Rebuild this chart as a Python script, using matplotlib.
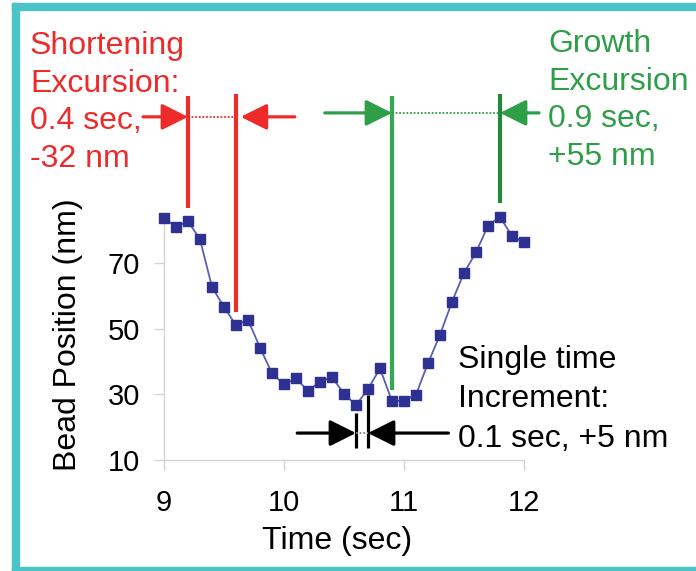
import matplotlib
matplotlib.use("Agg")
import matplotlib.pyplot as plt
from matplotlib.patches import Rectangle

plt.rcParams['font.family'] = ['Liberation Sans', 'DejaVu Sans']

# ---- data ----
time_sec = [9.0, 9.1, 9.2, 9.3, 9.4, 9.5, 9.6, 9.7, 9.8, 9.9,
            10.0, 10.1, 10.2, 10.3, 10.4, 10.5, 10.6, 10.7, 10.8, 10.9,
            11.0, 11.1, 11.2, 11.3, 11.4, 11.5, 11.6, 11.7, 11.8, 11.9, 12.0]
bead_nm = [83.7, 81.0, 82.7, 77.2, 62.7, 56.6, 51.0, 52.7, 44.2, 36.4,
           33.0, 34.9, 31.0, 33.9, 35.2, 30.2, 26.7, 31.6, 37.9, 27.9,
           28.1, 29.9, 39.5, 48.1, 58.2, 67.0, 73.2, 81.4, 84.0, 78.2, 76.3]
x_ticks = [9, 10, 11, 12]
y_ticks = [10, 30, 50, 70]

shorten_span = (9.2, 9.6)
growth_span = (10.9, 11.8)
increment_span = (10.6, 10.7)

shorten_text = "Shortening\nExcursion:\n0.4 sec,\n-32 nm"
growth_text = "Growth\nExcursion\n0.9 sec,\n+55 nm"
increment_text = "Single time\nIncrement:\n0.1 sec, +5 nm"

# ---- styling ----
W, H = 696, 571
RED = '#ee2a2a'
GREEN = '#2e9e48'
GREEN_DARK = '#1f8a3c'
NAVY = '#2e3192'
TEAL = '#4cc3c7'
GRID = '#d4d4d4'
FS = 23

def fx(x):
    return x / W

def fy(y):
    return 1 - y / H

fig = plt.figure(figsize=(W / 100, H / 100), dpi=100)
# axes: x 9..12 -> px 164..524 ; y 10..84 -> px 460..217
ax = fig.add_axes([fx(164), fy(460), (524 - 164) / W, (460 - 217) / H])
ax.set_xlim(9, 12)
ax.set_ylim(10, 84)

ax.plot(time_sec, bead_nm, color='#5b5fb0', lw=1.3, zorder=3, clip_on=False)
ax.plot(time_sec, bead_nm, ls='none', marker='s', ms=6.5, color=NAVY,
        zorder=4, clip_on=False)

for s in ['top', 'right']:
    ax.spines[s].set_visible(False)
for s in ['left', 'bottom']:
    ax.spines[s].set_color(GRID)
    ax.spines[s].set_linewidth(1)
ax.set_xticks(x_ticks)
ax.set_yticks(y_ticks)
ax.tick_params(axis='both', direction='out', length=7.2, width=1, color=GRID,
               labelsize=21, labelcolor='black')
ax.tick_params(axis='x', pad=14)
ax.tick_params(axis='y', pad=10)

ax.set_xlabel('Time (sec)', fontsize=FS)
ax.xaxis.label.set_va('center')
ax.xaxis.set_label_coords((337 - 164) / 360, (460 - 541) / 243)
ax.set_ylabel('Bead Position (nm)', fontsize=FS)
ax.yaxis.label.set_va('center')
ax.yaxis.set_label_coords((68 - 164) / 360, (460 - 335) / 243)

def value_at(t):
    return bead_nm[min(range(len(time_sec)), key=lambda i: abs(time_sec[i] - t))]

TOP = 121
def vline(t, y0, y1, color, lw=3):
    ax.plot([t, t], [y0, y1], color=color, lw=lw, solid_capstyle='butt',
            clip_on=False, zorder=5)

def arrow(t_tail, t_head, y, color):
    ax.annotate('', xy=(t_head, y), xytext=(t_tail, y),
                arrowprops=dict(arrowstyle='-|>,head_length=0.8,head_width=0.4',
                                mutation_scale=20, lw=2.3, color=color,
                                shrinkA=0, shrinkB=0),
                annotation_clip=False, zorder=6)

def dotted(t0, t1, y, color):
    ax.plot([t0, t1], [y, y], color=color, lw=1.3, ls=(0, (1, 1)),
            clip_on=False, zorder=5)

# shortening excursion
a, b = shorten_span
ya = 114.5
vline(a, value_at(a) + 4, TOP, RED)
vline(b, value_at(b) + 4, TOP + 0.5, RED)
arrow(8.825, a, ya, RED)
arrow(10.09, b + 0.04, ya, RED)
dotted(a, b, ya, RED)

# growth excursion
a, b = growth_span
yg = 115.7
vline(a, value_at(a) + 3.4, TOP, '#34a853')
vline(b, value_at(b) + 4.3, TOP + 0.5, GREEN_DARK)
arrow(10.34, a, yg, GREEN)
arrow(12.125, b, yg, GREEN)
dotted(a, b, yg, GREEN)

# single time increment
a, b = increment_span
yb = 18.2
vline(a, 13.7, value_at(a) - 2.4, 'black', lw=2.3)
vline(b, 13.7, value_at(b) - 1.9, 'black', lw=2.3)
arrow(10.11, a, yb, 'black')
arrow(11.37, b, yb, 'black')
dotted(a, b, yb, '#888888')

# texts (va='baseline' aligns the last line's baseline)
fig.text(fx(30), fy(167), shorten_text, color=RED, fontsize=FS,
         ha='left', va='baseline', linespacing=1.33)
fig.text(fx(548), fy(165), growth_text, color=GREEN, fontsize=FS,
         ha='left', va='baseline', linespacing=1.33)
fig.text(fx(458), fy(447), increment_text, color='black', fontsize=FS,
         ha='left', va='baseline', linespacing=1.42)

# teal frame (left, top, bottom)
fig.patches.append(Rectangle((fx(12), fy(571)), 7 / W, 568 / H,
                             transform=fig.transFigure, color=TEAL, zorder=0))
fig.patches.append(Rectangle((fx(12), fy(10)), (W - 12) / W, 7 / H,
                             transform=fig.transFigure, color=TEAL, zorder=0))
fig.patches.append(Rectangle((fx(12), fy(571)), (W - 12) / W, 4 / H,
                             transform=fig.transFigure, color=TEAL, zorder=0))

fig.savefig('out.png', dpi=100)
